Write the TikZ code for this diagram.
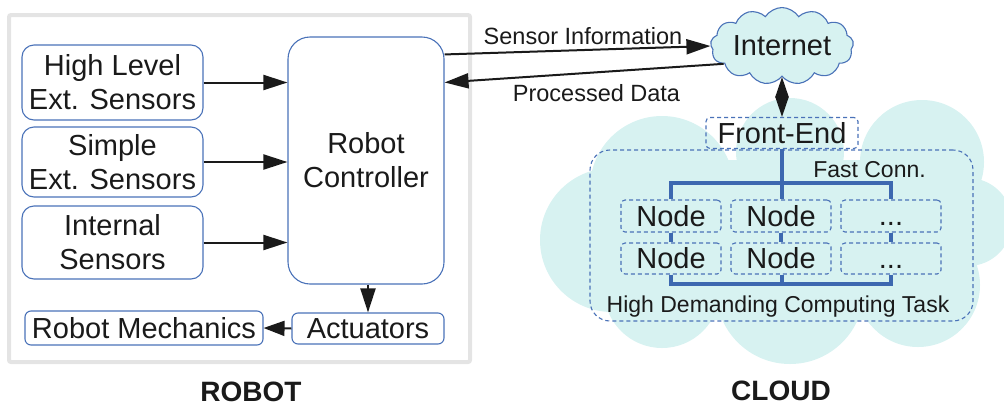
\documentclass[tikz,border=0pt]{standalone}
\usepackage{fontspec}
\setmainfont{Liberation Sans}
\usetikzlibrary{arrows.meta,shapes.symbols,calc}
\definecolor{boxblue}{RGB}{74,114,184}
\definecolor{busblue}{RGB}{61,104,176}
\definecolor{cloudfill}{RGB}{215,242,241}
\definecolor{framegrey}{RGB}{228,228,228}
\definecolor{ink}{RGB}{26,26,26}
\begin{document}
\begin{tikzpicture}[x=1pt,y=-1pt,
  big/.style={font=\fontsize{29}{34}\selectfont, text=ink},
  small/.style={font=\fontsize{23.5}{28}\selectfont, text=ink},
  title/.style={font=\bfseries\fontsize{28}{34}\selectfont, text=ink},
  box/.style={draw=boxblue, line width=1.1pt, inner sep=0pt, align=center, big},
  dbox/.style={box, dash pattern=on 4pt off 3pt, rounded corners=4pt},
  arr/.style={draw=ink, line width=2pt, -{Triangle[length=24pt,width=15pt]}},
  bus/.style={draw=busblue, line width=4pt},
]
\useasboundingbox (0,0) rectangle (1004,405);

% big cloud background
\begin{scope}
\clip (0,0) rectangle (1004,405);
\fill[cloudfill] (790,152) circle (54pt);
\fill[cloudfill] (922,162) circle (62pt);
\fill[cloudfill] (662,188) circle (72pt);
\fill[cloudfill] (612,240) circle (72pt);
\fill[cloudfill] (662,290) circle (58pt);
\fill[cloudfill] (790,290) circle (74pt);
\fill[cloudfill] (918,285) circle (62pt);
\fill[cloudfill] (968,222) circle (44pt);
\fill[cloudfill] (640,160) rectangle (960,320);
\end{scope}

% robot frame
\draw[framegrey, line width=4pt, rounded corners=2pt] (9,15) rectangle (470,362);

% robot nodes
\node[box, rounded corners=12pt, minimum width=181pt, minimum height=75pt] (hl) at (112.5,82.5) {High Level\\Ext. Sensors};
\node[box, rounded corners=12pt, minimum width=181pt, minimum height=70pt] (simple) at (112.5,162) {Simple\\Ext. Sensors};
\node[box, rounded corners=12pt, minimum width=181pt, minimum height=73pt] (internal) at (112.5,242.5) {Internal\\Sensors};
\node[box, rounded corners=22pt, minimum width=156pt, minimum height=247pt] (ctrl) at (366,160.5) {Robot\\Controller};
\node[box, rounded corners=6pt, minimum width=152pt, minimum height=31pt] (act) at (368,328.5) {Actuators};
\node[box, rounded corners=6pt, minimum width=238pt, minimum height=34pt] (mech) at (144,328) {Robot Mechanics};

\draw[arr] (hl.east) -- (hl.east -| ctrl.west);
\draw[arr] (simple.east) -- (simple.east -| ctrl.west);
\draw[arr] (internal.east) -- (internal.east -| ctrl.west);
\draw[arr] (ctrl.south -| act.north) -- (act.north);
\draw[draw=ink, line width=2pt, -{Triangle[length=21pt,width=15pt]}] (act.west) -- (mech.east);

% internet
\node[draw=boxblue, line width=1.1pt, fill=cloudfill, cloud, cloud puffs=13, cloud puff arc=115, aspect=2.3,
      minimum width=143pt, minimum height=61pt, inner sep=0pt, big] (inet) at (782,46) {Internet};

\coordinate (sstart) at ($(ctrl.north east)+(0,18)$);
\coordinate (pend) at ($(ctrl.north east)+(0,46)$);
\coordinate (ibot) at (782,77);
\draw[arr] (sstart) -- (inet.west);
\draw[arr] (inet.197) -- (pend);
\node[small, anchor=base] (lsens) at (583,44) {Sensor Information};
\node[small, anchor=base] (lproc) at (596.5,101) {Processed Data};

% cloud contents
\node[dbox, minimum width=152pt, minimum height=31pt] (fe) at (782,133) {Front-End};
\draw[draw=ink, line width=2pt, {Triangle[length=20pt,width=13pt]}-{Triangle[length=20pt,width=13pt]}] (ibot) -- (fe.north);

\node[draw=boxblue, line width=1.1pt, dash pattern=on 4pt off 3pt, rounded corners=20pt,
      minimum width=383pt, minimum height=171pt, inner sep=0pt] (hdc) at (781.5,235.5) {};

\node[dbox, minimum width=100pt, minimum height=32pt] (n11) at (671,216) {Node};
\node[dbox, minimum width=100pt, minimum height=32pt] (n12) at (781,216) {Node};
\node[dbox, minimum width=100pt, minimum height=32pt] (n13) at (891,216) {\vphantom{N}...};
\node[dbox, minimum width=100pt, minimum height=31pt] (n21) at (671,258.5) {Node};
\node[dbox, minimum width=100pt, minimum height=31pt] (n22) at (781,258.5) {Node};
\node[dbox, minimum width=100pt, minimum height=31pt] (n23) at (891,258.5) {\vphantom{N}...};

\coordinate (bt) at (782,183);
\coordinate (bb) at (782,284);
\draw[bus] (fe.south) -- (bt);
\draw[bus] (n11.north) -- (n11.north |- bt) -- (n13.north |- bt) -- (n13.north);
\draw[bus] (bt) -- (bt |- n12.north);
\draw[bus] (n11.south) -- (n21.north);
\draw[bus] (n12.south) -- (n22.north);
\draw[bus] (n13.south) -- (n23.north);
\draw[bus] (n21.south) -- (n21.south |- bb) -- (n23.south |- bb) -- (n23.south);
\draw[bus] (bb) -- (bb |- n22.south);

\node[small, font=\fontsize{23}{28}\selectfont, anchor=base] (lfast) at (869.5,177) {Fast Conn.};
\node[small, font=\fontsize{23}{28}\selectfont, anchor=base] (lhdc) at (778,312) {High Demanding Computing Task};

% titles
\node[title, anchor=base] (trobot) at (251,401) {ROBOT};
\node[title, anchor=base] (tcloud) at (781,400) {CLOUD};
\end{tikzpicture}
\end{document}
